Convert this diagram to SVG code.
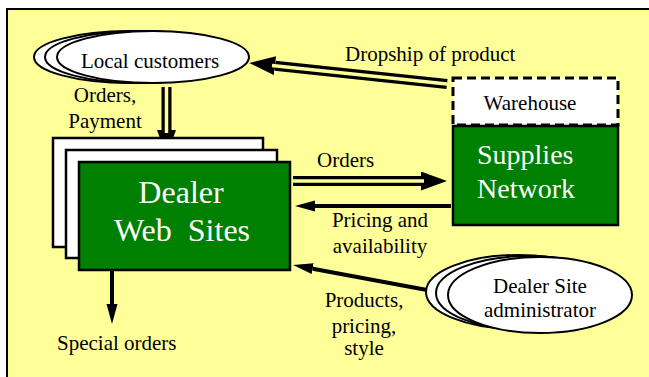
<svg xmlns="http://www.w3.org/2000/svg" width="649" height="377" viewBox="0 0 649 377">
<style>
  .lbl { font-family: 'Liberation Serif', 'Times New Roman', serif; font-size: 21px; fill: #000; }
  .big { font-family: 'Liberation Serif', 'Times New Roman', serif; font-size: 28px; fill: #fff; }
  .huge { font-family: 'Liberation Serif', 'Times New Roman', serif; font-size: 32px; fill: #fff; }
</style>
<defs>
  <marker id="hd" viewBox="0 -9.5 26 19" markerUnits="userSpaceOnUse" markerWidth="26" markerHeight="19" refX="0" refY="0" orient="auto">
    <path d="M0,-9.5 L26,0 L0,9.5 z" fill="#000"/>
  </marker>
  <marker id="hs" viewBox="0 -6 20 12" markerUnits="userSpaceOnUse" markerWidth="20" markerHeight="12" refX="0" refY="0" orient="auto">
    <path d="M0,-5.5 L20,0 L0,5.5 z" fill="#000"/>
  </marker>
</defs>
<rect x="7" y="9" width="660" height="380" fill="#FFFF99" stroke="#000" stroke-width="2"/>

<g id="connectors" fill="none">
  <g stroke="#000" stroke-width="10">
    <path d="M166.5,87 L166.5,130" marker-end="url(#hd)"/>
    <path d="M447,84 L275,65.7" marker-end="url(#hd)"/>
    <path d="M293,181 L421,181" marker-end="url(#hd)"/>
  </g>
  <g stroke="#FFFF99" stroke-width="3.5">
    <path d="M166.5,87 L166.5,133"/>
    <path d="M447,84 L272,65.4"/>
    <path d="M293,181 L424,181"/>
  </g>
  <g stroke="#000" stroke-width="4">
    <path d="M451,206 L315,206" marker-end="url(#hs)"/>
    <path d="M427,290 L312.7,268.7" marker-end="url(#hs)"/>
    <path d="M112,270 L112,304" marker-end="url(#hs)"/>
  </g>
</g>

<g id="local-customers">
  <g fill="#fff" stroke="#000" stroke-width="2">
    <ellipse cx="130" cy="57" rx="96" ry="26"/>
    <ellipse cx="141" cy="57" rx="96" ry="26"/>
    <ellipse cx="153" cy="57" rx="96" ry="26"/>
  </g>
  <text class="lbl" font-family="serif" x="150" y="68" text-anchor="middle">Local customers</text>
</g>

<g id="warehouse">
  <rect x="453" y="78" width="165" height="47" fill="#fff" stroke="#000" stroke-width="3" stroke-dasharray="9,5"/>
  <text class="lbl" font-family="serif" x="530" y="110" text-anchor="middle">Warehouse</text>
</g>

<g id="supplies-network">
  <rect x="453" y="126" width="165" height="99" fill="#008000" stroke="#000" stroke-width="2.5"/>
  <text class="big" font-family="serif" x="477" y="164">Supplies</text>
  <text class="big" font-family="serif" x="477" y="198">Network</text>
</g>

<g id="dealer-web-sites">
  <g fill="#fff" stroke="#000" stroke-width="2.5">
    <rect x="53" y="138" width="210" height="109"/>
    <rect x="66" y="150" width="211" height="108"/>
  </g>
  <rect x="79" y="162" width="211" height="108" fill="#008000" stroke="#000" stroke-width="2.5"/>
  <text class="huge" font-family="serif" x="181" y="203" text-anchor="middle">Dealer</text>
  <text class="huge" font-family="serif" x="182" y="241" text-anchor="middle">Web&#160; Sites</text>
</g>

<g id="dealer-site-administrator">
  <g fill="#fff" stroke="#000" stroke-width="2">
    <ellipse cx="518" cy="292" rx="92" ry="37"/>
    <ellipse cx="528" cy="293" rx="92" ry="37"/>
    <ellipse cx="540" cy="295" rx="92" ry="38"/>
  </g>
  <text class="lbl" font-family="serif" x="540" y="293" text-anchor="middle">Dealer Site</text>
  <text class="lbl" font-family="serif" x="540" y="317" text-anchor="middle">administrator</text>
</g>

<g id="labels">
  <text class="lbl" font-family="serif" x="105" y="102" text-anchor="middle">Orders,</text>
  <text class="lbl" font-family="serif" x="105" y="128" text-anchor="middle">Payment</text>
  <text class="lbl" font-family="serif" x="345" y="61">Dropship of product</text>
  <text class="lbl" font-family="serif" x="317" y="167">Orders</text>
  <text class="lbl" font-family="serif" x="380" y="227" text-anchor="middle">Pricing and</text>
  <text class="lbl" font-family="serif" x="380" y="253" text-anchor="middle">availability</text>
  <text class="lbl" font-family="serif" x="364" y="307" text-anchor="middle">Products,</text>
  <text class="lbl" font-family="serif" x="364" y="333" text-anchor="middle">pricing,</text>
  <text class="lbl" font-family="serif" x="364" y="355" text-anchor="middle">style</text>
  <text class="lbl" font-family="serif" x="57" y="350">Special orders</text>
</g>
</svg>
